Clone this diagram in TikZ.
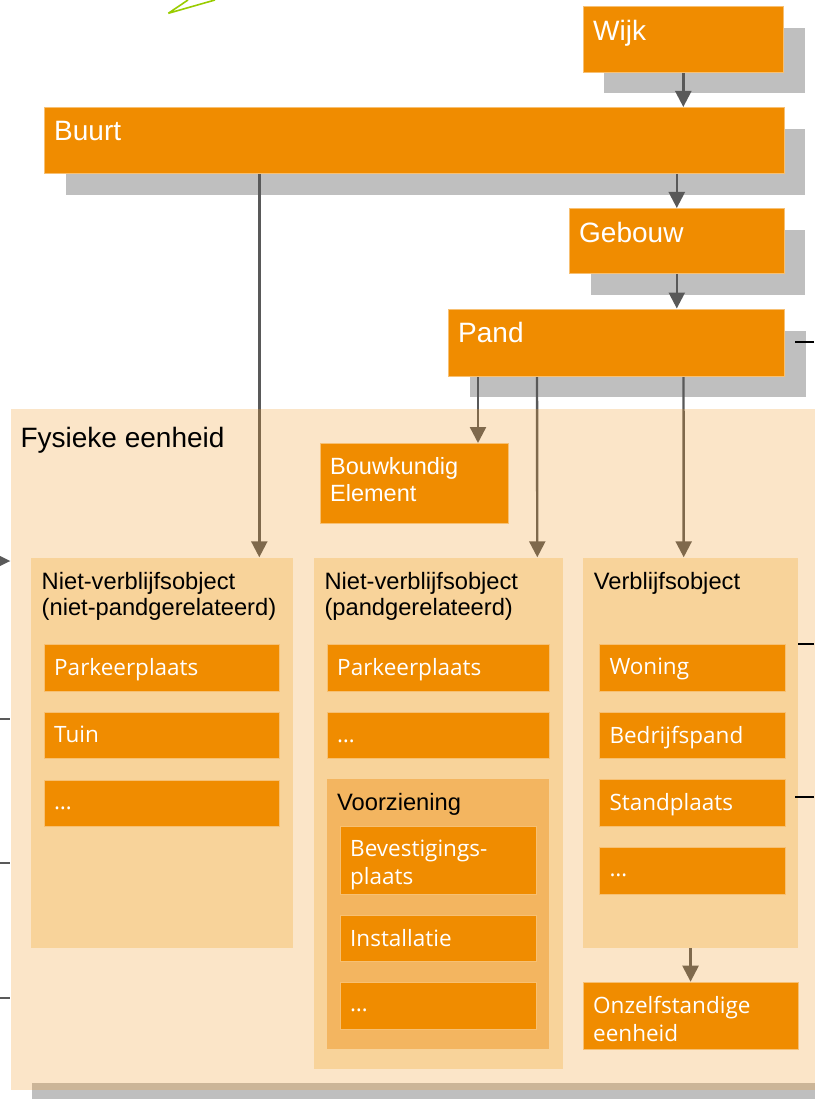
\documentclass[tikz,border=0pt]{standalone}
\usepackage{fontspec}
\setmainfont{Liberation Sans}
\newfontfamily\itemfont{Open Sans}
\usepackage{tikz}
\usetikzlibrary{arrows.meta}
\definecolor{oranje}{RGB}{240,140,0}
\definecolor{grijs}{RGB}{191,191,191}
\definecolor{kolom}{RGB}{248,211,154}
\definecolor{voorz}{RGB}{243,181,96}
\definecolor{pijlgrijs}{RGB}{89,89,89}
\definecolor{paneelkleur}{RGB}{238,154,42}
\definecolor{groen}{RGB}{153,204,0}
\tikzstyle{blok}=[rectangle, anchor=north west, inner sep=0pt, fill=oranje, draw=oranje!55!white, line width=0.6pt]
\tikzstyle{schaduwblok}=[rectangle, anchor=north west, inner sep=0pt, fill=grijs]
\tikzstyle{kolomblok}=[rectangle, anchor=north west, inner sep=0pt, fill=kolom]
\tikzstyle{paneel}=[rectangle, anchor=north west, inner sep=0pt, fill=paneelkleur, fill opacity=0.26]
\tikzstyle{grotetekst}=[anchor=north west, inner sep=0pt, xshift=10pt, yshift=-14pt, text=white, font=\fontsize{28}{33}\selectfont]
\tikzstyle{wittekst}=[anchor=north west, inner sep=0pt, xshift=10pt, yshift=-14pt, text=white, align=left, font=\fontsize{23.5}{27.5}\selectfont]
\tikzstyle{itemtekst}=[anchor=north west, inner sep=0pt, xshift=10pt, yshift=-14pt, text=white, align=left, font=\itemfont\fontsize{22.5}{28}\selectfont]
\tikzstyle{zwarttekst}=[anchor=north west, inner sep=0pt, xshift=11pt, yshift=-14.5pt, text=black, align=left, font=\fontsize{23.7}{26.5}\selectfont]
\tikzstyle{pijlstijl}=[draw=pijlgrijs, line width=2.4pt, -{Triangle[length=16pt,width=16pt]}]
\pgfdeclarelayer{achter}
\pgfdeclarelayer{pijlen}
\pgfdeclarelayer{doorzicht}
\pgfsetlayers{achter,pijlen,doorzicht,main}

\begin{document}
\begin{tikzpicture}[x=1pt,y=-1pt]
    \useasboundingbox (0,0) rectangle (814,1099);
    % Schaduwen
    \begin{pgfonlayer}{achter}
        \node[schaduwblok, minimum width=201, minimum height=65] (wijk-s) at (604,28) {};
        \node[schaduwblok, minimum width=739, minimum height=66] (buurt-s) at (66,129) {};
        \node[schaduwblok, minimum width=214, minimum height=65] (gebouw-s) at (591,230) {};
        \node[schaduwblok, minimum width=336, minimum height=66] (pand-s) at (470,330.5) {};
        \node[schaduwblok, minimum width=800, minimum height=40] (fysiek-s) at (32,1082.5) {};
    \end{pgfonlayer}
    % Bovenste blokken
    \node[blok, minimum width=200, minimum height=66] (wijk) at (583,6) {};
    \node[grotetekst] (wijk-t) at (wijk.north west) {Wijk};
    \node[blok, minimum width=740, minimum height=66] (buurt) at (44,107) {};
    \node[grotetekst] (buurt-t) at (buurt.north west) {Buurt};
    \node[blok, minimum width=215, minimum height=65] (gebouw) at (569,208) {};
    \node[grotetekst] (gebouw-t) at (gebouw.north west) {Gebouw};
    \node[blok, minimum width=336, minimum height=67] (pand) at (448,308.5) {};
    \node[grotetekst] (pand-t) at (pand.north west) {Pand};
    % Fysieke eenheid
    \begin{pgfonlayer}{doorzicht}
        \node[paneel, minimum width=820, minimum height=681] (fysiek) at (10.4,408.3) {};
    \end{pgfonlayer}
    \node[zwarttekst, xshift=-1pt, yshift=-4pt, font=\fontsize{28}{32}\selectfont] (fysiek-t) at (fysiek.north west) {Fysieke eenheid};
    \node[blok, minimum width=188, minimum height=80] (bouwk) at (320,443) {};
    \node[wittekst] (bouwk-t) at (bouwk.north west) {Bouwkundig\\Element};
    % Kolommen
    \node[kolomblok, minimum width=262, minimum height=390] (links) at (30.5,557.3) {};
    \node[zwarttekst] (links-t) at (links.north west) {Niet-verblijfsobject\\(niet-pandgerelateerd)};
    \node[kolomblok, minimum width=249.5, minimum height=511.7] (midden) at (313.3,557.3) {};
    \node[zwarttekst] (midden-t) at (midden.north west) {Niet-verblijfsobject\\(pandgerelateerd)};
    \node[kolomblok, minimum width=215.3, minimum height=390] (rechts) at (582.7,557.3) {};
    \node[zwarttekst] (rechts-t) at (rechts.north west) {Verblijfsobject};
    % Links
    \node[blok, minimum width=235, minimum height=47] (l-park) at (44,644) {};
    \node[itemtekst] (l-park-t) at (l-park.north west) {Parkeerplaats};
    \node[blok, minimum width=235, minimum height=46] (l-tuin) at (44,712) {};
    \node[itemtekst] (l-tuin-t) at (l-tuin.north west) {Tuin};
    \node[blok, minimum width=235, minimum height=46.5] (l-rest) at (44,779.5) {};
    \node[itemtekst] (l-rest-t) at (l-rest.north west) {\vphantom{P}…};
    % Midden
    \node[blok, minimum width=221.5, minimum height=47] (m-park) at (327,644) {};
    \node[itemtekst] (m-park-t) at (m-park.north west) {Parkeerplaats};
    \node[blok, minimum width=221.5, minimum height=46] (m-rest) at (327,712) {};
    \node[itemtekst] (m-rest-t) at (m-rest.north west) {\vphantom{P}…};
    \node[rectangle, anchor=north west, inner sep=0pt, fill=voorz, minimum width=222, minimum height=270] (voorz) at (327,779) {};
    \node[zwarttekst, xshift=-1pt] (voorz-t) at (voorz.north west) {Voorziening};
    \node[blok, minimum width=196, minimum height=68] (bevest) at (340,826) {};
    \node[itemtekst] (bevest-t) at (bevest.north west) {Bevestigings-\\plaats};
    \node[blok, minimum width=196, minimum height=46] (install) at (340,915) {};
    \node[itemtekst] (install-t) at (install.north west) {Installatie};
    \node[blok, minimum width=196, minimum height=47] (v-rest) at (340,981.7) {};
    \node[itemtekst] (v-rest-t) at (v-rest.north west) {\vphantom{P}…};
    % Rechts
    \node[blok, minimum width=185.4, minimum height=47] (woning) at (599.3,644) {};
    \node[itemtekst] (woning-t) at (woning.north west) {Woning};
    \node[blok, minimum width=185.4, minimum height=46] (bedrijf) at (599.3,712) {};
    \node[itemtekst] (bedrijf-t) at (bedrijf.north west) {Bedrijfspand};
    \node[blok, minimum width=185.4, minimum height=47] (stand) at (599.3,779) {};
    \node[itemtekst] (stand-t) at (stand.north west) {Standplaats};
    \node[blok, minimum width=185.4, minimum height=47] (r-rest) at (599.3,846.7) {};
    \node[itemtekst] (r-rest-t) at (r-rest.north west) {\vphantom{P}…};
    \node[blok, minimum width=215, minimum height=67.3] (onzelf) at (583,981.7) {};
    \node[itemtekst] (onzelf-t) at (onzelf.north west) {Onzelfstandige\\eenheid};
    % Losse eindpunten
    \coordinate (links1) at (0,561);
    \coordinate (links2) at (0,719.3);
    \coordinate (links3) at (0,863.3);
    \coordinate (links4) at (0,998.3);
    \coordinate (rechts1) at (814,342);
    \coordinate (rechts2) at (814,644);
    \coordinate (rechts3) at (814,797);
    \coordinate (groen0) at (168.3,13.3);
    % Pijlen
    \begin{pgfonlayer}{pijlen}
        \draw[pijlstijl] (wijk.south) -- (wijk.south |- buurt.north);
        \draw[pijlstijl] (gebouw.north |- buurt.south) -- (gebouw.north);
        \draw[pijlstijl] (gebouw.south) -- (gebouw.south |- pand.north);
        \draw[pijlstijl] ([xshift=215.3pt]buurt.south west) -- ([xshift=228.8pt]links.north west);
        \draw[pijlstijl] ([xshift=30pt]pand.south west) -- ([xshift=158pt]bouwk.north west);
        \draw[pijlstijl] ([xshift=89pt]pand.south west) -- ([xshift=224pt]midden.north west);
        \draw[pijlstijl] ([xshift=235.5pt]pand.south west) -- ([xshift=101pt]rechts.north west);
        \draw[pijlstijl] (rechts.south) -- (rechts.south |- onzelf.north);
        \draw[draw=pijlgrijs, line width=2pt, -{Triangle[length=11pt,width=10pt]}] ([xshift=-10pt]links1) -- (links1 -| fysiek.west);
        \draw[draw=pijlgrijs, line width=2pt] (links2) -- (links2 -| fysiek.west);
        \draw[draw=pijlgrijs, line width=2pt] (links3) -- (links3 -| fysiek.west);
        \draw[draw=pijlgrijs, line width=2pt] (links4) -- (links4 -| fysiek.west);
    \end{pgfonlayer}
    \draw[line width=2.4pt] (rechts1) -- ([xshift=10pt]rechts1 -| pand.east);
    \draw[line width=2.4pt] (rechts2) -- (rechts2 -| rechts.east);
    \draw[line width=2.4pt] (rechts3) -- ([xshift=10pt]rechts3 -| stand.east);
    \draw[groen, line width=1.6pt] (groen0) -- (188,0) (groen0) -- (215,0);
\end{tikzpicture}
\end{document}
